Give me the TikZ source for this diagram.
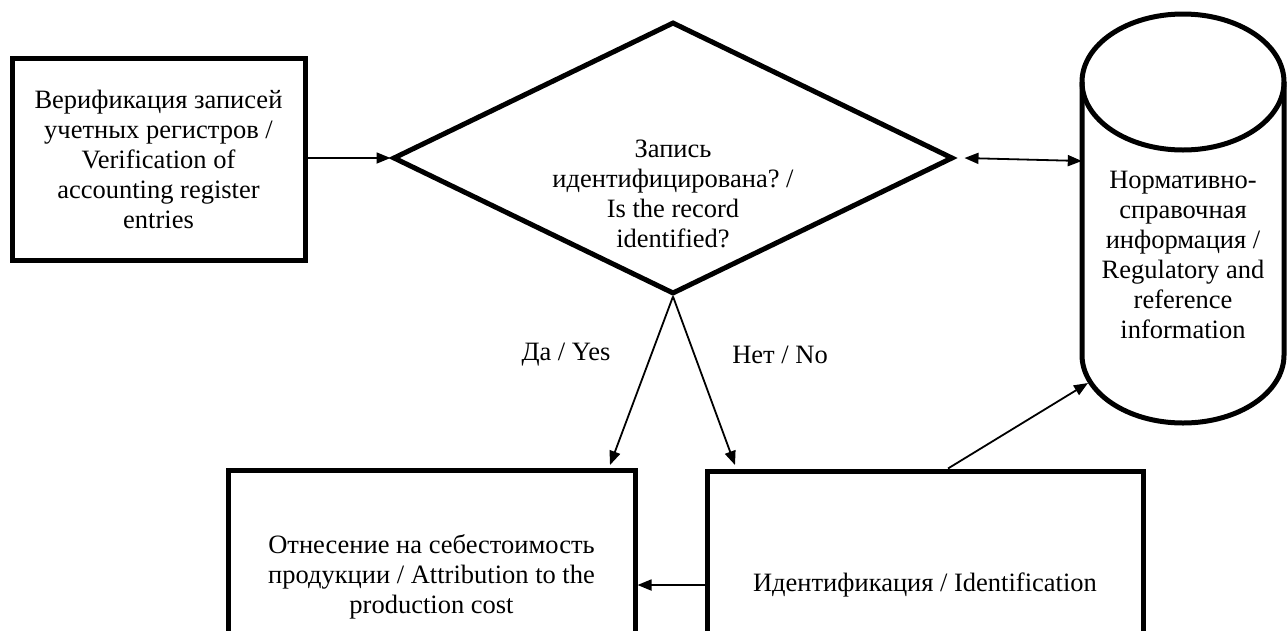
\documentclass[tikz,border=0pt]{standalone}
\usepackage{fontspec}
\setmainfont{Liberation Serif}
\usetikzlibrary{arrows.meta,shapes.geometric}
\tikzset{
  txt/.style={font=\fontsize{26.5}{30}\selectfont\frenchspacing, align=center, inner sep=0pt},
  box/.style={draw, line width=5pt, rectangle, inner sep=0pt, txt},
  dec/.style={draw, line width=5pt, diamond, inner sep=0pt, aspect=2.06},
  lbl/.style={txt},
  conn/.style={line width=1.8pt, -{Triangle[length=14pt,width=11pt]}},
  dconn/.style={line width=1.8pt, {Triangle[length=14pt,width=11pt]}-{Triangle[length=14pt,width=11pt]}},
  cyl/.style={line width=5pt}
}
\begin{document}
\begin{tikzpicture}[x=1pt,y=-1pt]
\useasboundingbox (0,0) rectangle (1287,630);
\clip (0,0) rectangle (1287,630);
% left box
\node[box, minimum width=293pt, minimum height=202pt] (ver) at (158.5,159)
  {Верификация записей\\учетных регистров /\\Verification of\\accounting register\\entries};
% decision
\node[dec, minimum width=560pt, minimum height=272pt] (dia) at (673,158) {};
\node[lbl] (diatext) at (673,194)
  {Запись\\идентифицирована? /\\Is the record\\identified?};
% cylinder
\draw[cyl] (1183,82) ellipse [x radius=101pt, y radius=68pt];
\draw[cyl] (1082,82) -- (1082,355) arc[start angle=180, end angle=360, x radius=101pt, y radius=68pt] -- (1284,82);
\node[lbl, minimum width=202pt, minimum height=270pt] (db) at (1183,255)
  {Нормативно-\\справочная\\информация /\\Regulatory and\\reference\\information};
% bottom boxes
\node[box, minimum width=407pt, minimum height=230pt] (att) at (431.5,585) {};
\node[lbl] (atttext) at (431.5,577)
  {Отнесение на себестоимость\\продукции / Attribution to the\\production cost};
\node[box, minimum width=436pt, minimum height=228pt] (idf) at (925,585)
  {Идентификация / Identification};
% labels
\node[lbl] (yes) at (566,355) {Да / Yes};
\node[lbl] (no) at (780,355) {Нет / No};
% coordinates
\coordinate (yesend) at (610,465);
\coordinate (noend) at (735,465);
\coordinate (dbin) at (1088,383);
% connectors
\draw[conn] (ver.east |- dia.west) -- (dia.west);
\draw[dconn] ([xshift=9pt]dia.east) -- ([yshift=-3pt]dia.east -| db.west);
\draw[conn] (dia.south) -- (yesend);
\draw[conn] (dia.south) -- (noend);
\draw[conn] (idf.west) -- (att.east);
\draw[conn] ([xshift=23pt]idf.north) -- (dbin);
\end{tikzpicture}
\end{document}
